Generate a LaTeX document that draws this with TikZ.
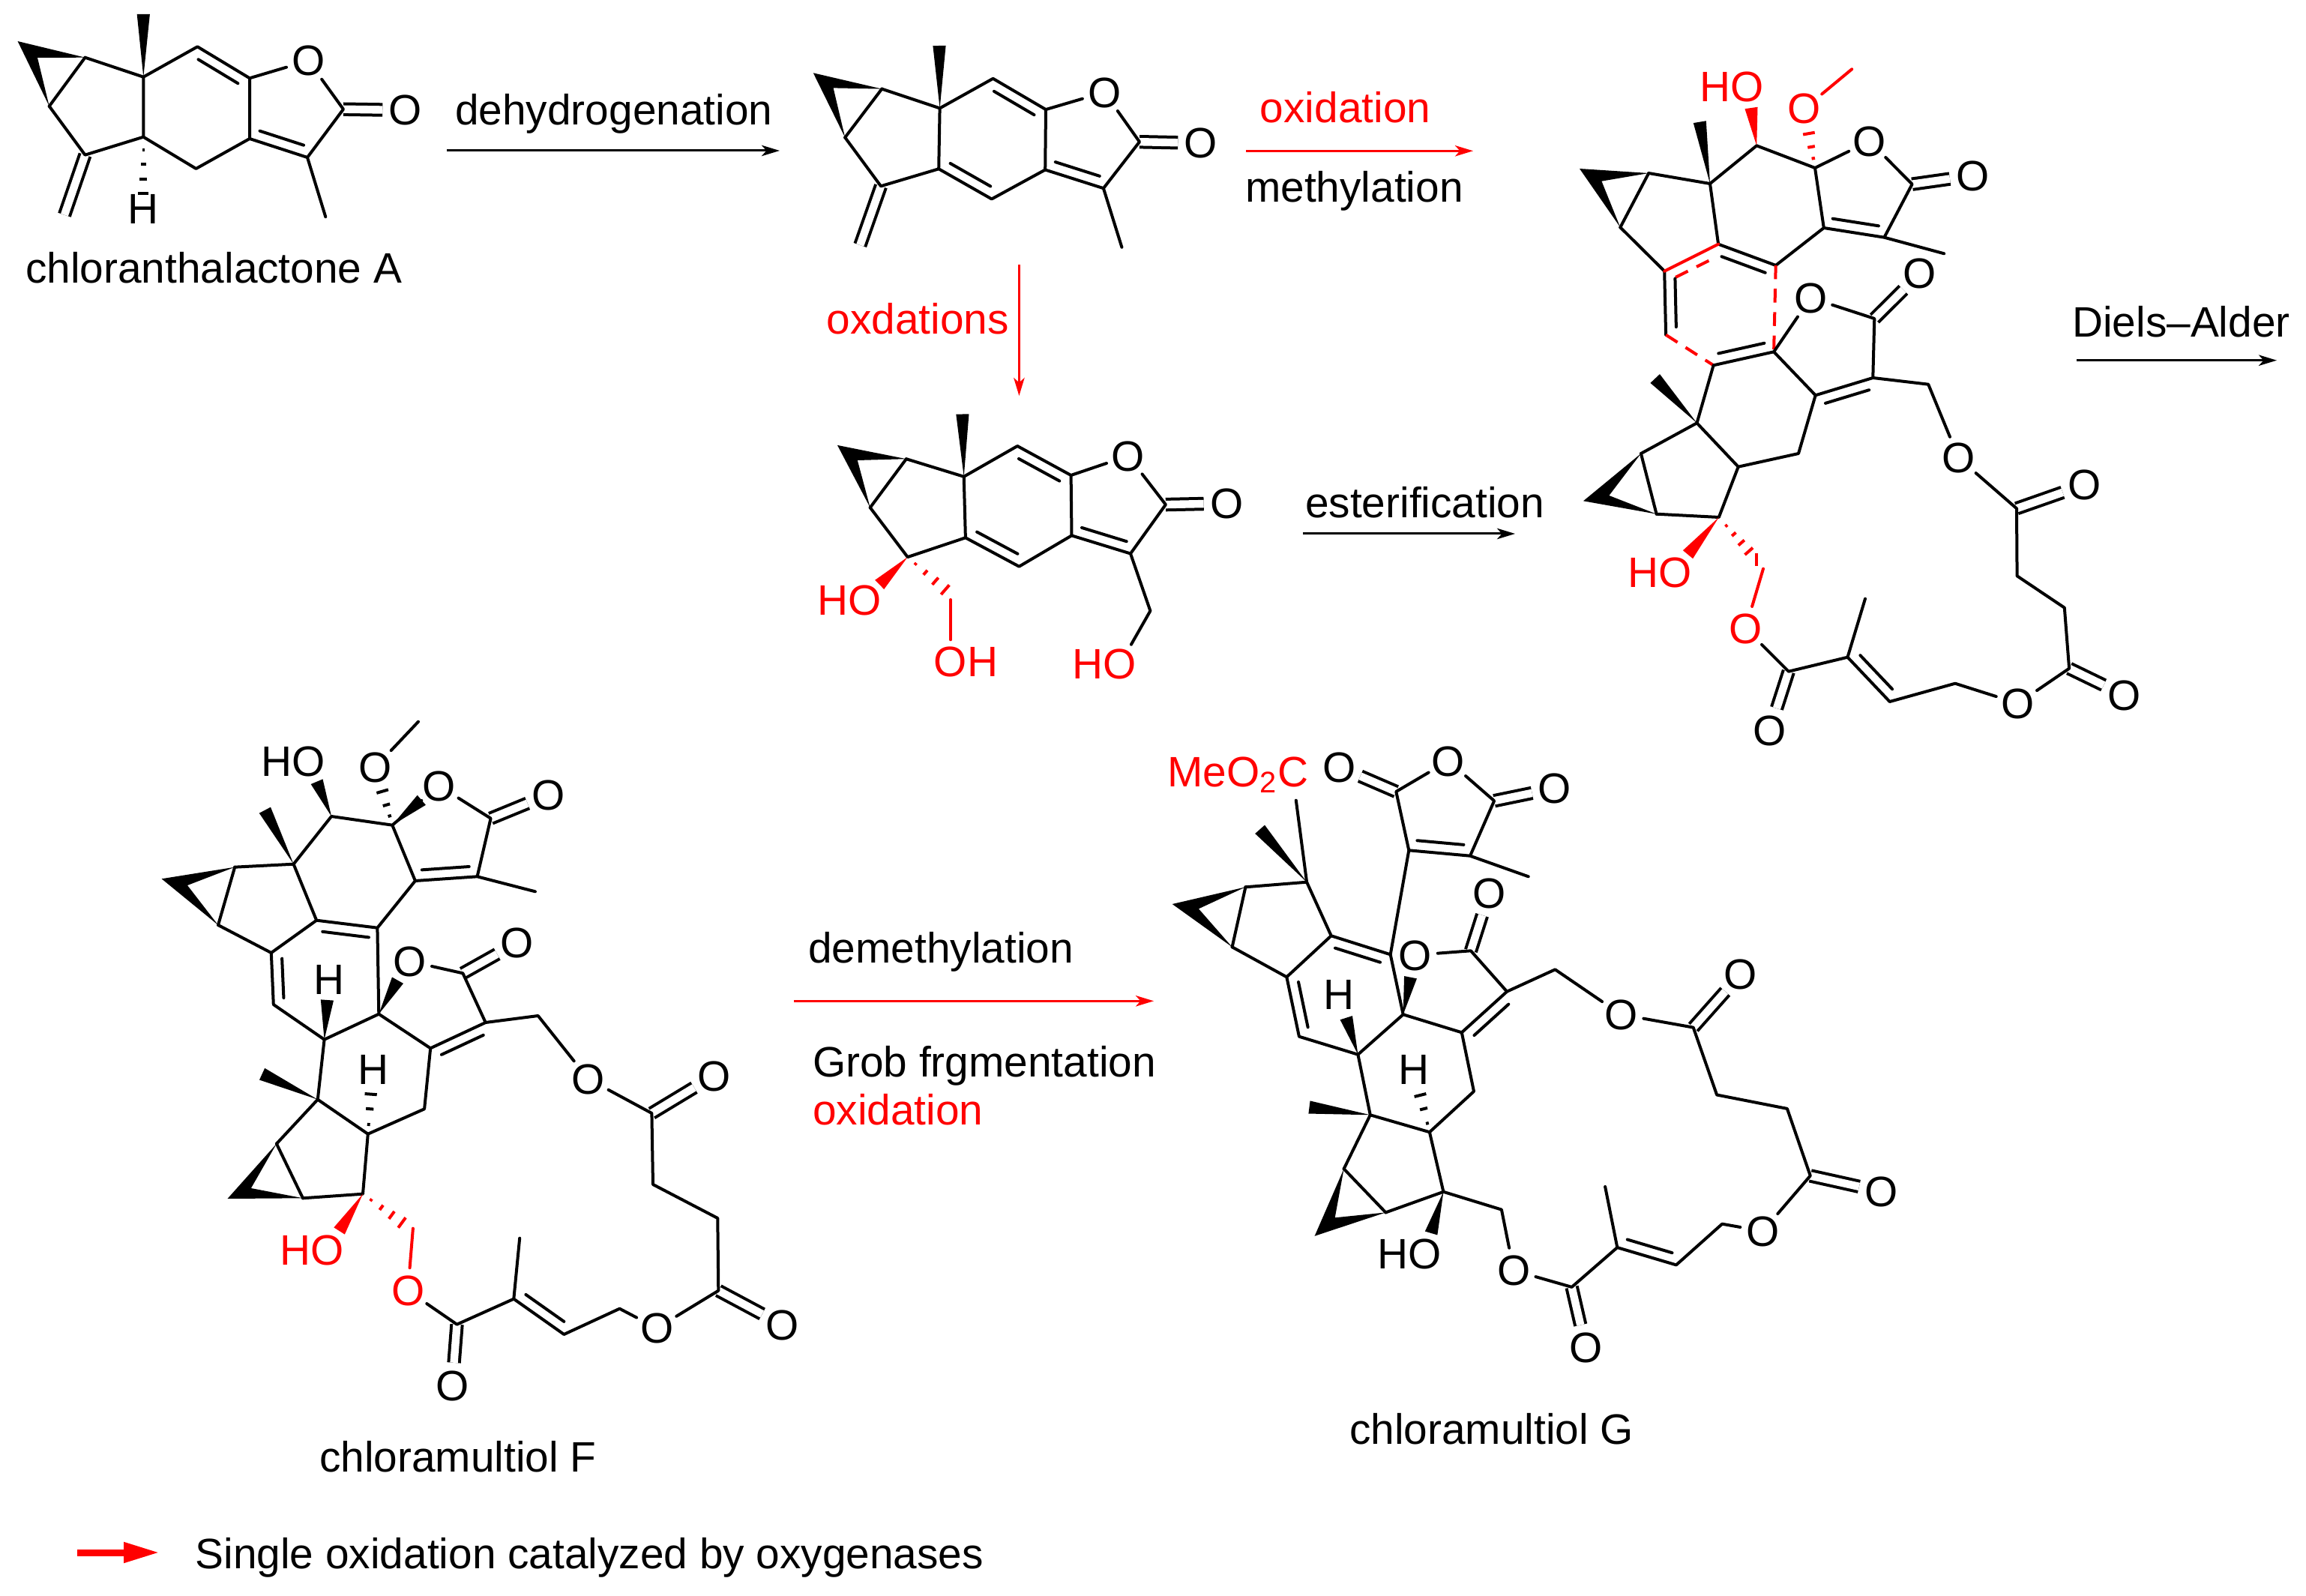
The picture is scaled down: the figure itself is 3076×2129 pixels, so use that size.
\documentclass[tikz,border=0pt]{standalone}
\usepackage{fontspec}
\setmainfont{Liberation Sans}
\usetikzlibrary{calc,arrows.meta}
\definecolor{rd}{RGB}{255,0,0}
\newcommand\dd{3.5pt}
\newcommand\hwmax{2.2}
% inner line of a double bond, on the right of a->b as seen on the page
\newcommand\ib[3][bond]{\draw[#1] ($(#2)!.12!(#3)!-\dd!90:(#3)$) -- ($(#3)!.12!(#2)!\dd!90:(#2)$);}
% solid wedge: narrow at tip, wide at end
\newcommand\wdg[3][black]{\fill[#1] (#2) -- ($(#3)!2.15pt!90:(#2)$) -- ($(#3)!-2.15pt!90:(#2)$) -- cycle;}
% hashed wedge
\newcommand\hsh[4][black]{\foreach \t in {#4}{\pgfmathsetmacro\hw{\t*\hwmax}
  \draw[hashl,#1] ($(#2)!\t!(#3)!\hw pt!90:(#3)$) -- ($(#2)!\t!(#3)!-\hw pt!90:(#3)$);}}
% cyclopropane with two bold edges
\newcommand\cyc[4]{\fill (#1) -- (#2) -- (#3) -- (#4) -- cycle; \draw[bond] (#2) -- (#4);}
\newcommand\at[1]{\foreach \n/\x/\y in {#1}{\coordinate (\n) at (\x,\y);}}
\newcommand\ox[1]{\foreach \n/\x/\y in {#1}{\node[atom] (\n) at (\x,\y) {O};}}
\newcommand\oxr[1]{\foreach \n/\x/\y in {#1}{\node[atom,text=rd] (\n) at (\x,\y) {O};}}
\newcommand\dbl[1]{\foreach \a/\b in {#1}{\draw[dblb] (\a) -- (\b);}}
\tikzset{
  bond/.style={line width=1pt,line cap=round,line join=round},
  redbond/.style={bond,draw=rd},
  reddash/.style={line width=1pt,draw=rd,dash pattern=on 4.6pt off 3.2pt},
  hashl/.style={line width=1pt},
  dblb/.style={line width=1pt,double,double distance=2.6pt,line cap=butt},
  atom/.style={circle,inner sep=0pt,minimum size=14.6pt,font=\fontsize{14.2}{14}\selectfont,text height=10pt,text depth=0pt},
  lab/.style={inner sep=0pt,font=\fontsize{14.2}{14}\selectfont,text height=10pt,text depth=0pt},
  txt/.style={inner sep=0pt,anchor=base west,font=\fontsize{14.2}{14}\selectfont,xshift=-0.4pt,yshift=-0.4pt},
  arr/.style={line width=0.75pt,-{Stealth[length=6pt,width=3.6pt,inset=1.6pt]}},
  redarr/.style={arr,draw=rd,fill=rd}
}
\begin{document}
\begin{tikzpicture}[x=0.25pt,y=-0.25pt]
\useasboundingbox[fill=white] (0,0) rectangle (3076,2129);
%% ---------- chloranthalactone A
\at{aP/23.6/55,aQ/113.5/76.7,aI/50/77,aR/65.7/141.7,aC1/191.3/102.7,aMe/191.3/19,aC2/263.4/62.3,aC3/333/104.3,aC4/458/145.7,aC5/410/210,aC6/333/185,aC7/261.5/225,aC8/191.3/182.7,aC9/113.5/206.7,aCH/86/286.7,aM2/434.3/289.3}
\ox{aO/411.3/81,aO2/540.8/147}
\node[lab] (aH) at (191.3,279) {H};
\dbl{aC4/aO2,aC9/aCH}
\cyc{aP}{aQ}{aI}{aR}
\wdg{aC1}{aMe}
\draw[bond] (aQ)--(aC1)--(aC2)--(aC3)--(aC6)--(aC7)--(aC8)--(aC1) (aC8)--(aC9)--(aR) (aC3)--(aO) (aO)--(aC4)--(aC5)--(aC6) (aC5)--(aM2);
\ib{aC2}{aC3}\ib{aC5}{aC6}
\hsh{aC8}{aH}{.18,.38,.58,.78}
\node[txt] (tA) at (35,376) {chloranthalactone A};
\node[txt] (t1) at (608,165) {dehydrogenation};
\coordinate (r1a) at (596,201);\coordinate (r1b) at (1040,201);
\draw[arr] (r1a)--(r1b);
%% ---------- dehydro
\at{bP/1084.8/97.3,bQ/1176.3/118.6,bI/1111.6/117.4,bR/1127.2/183.4,bC1/1253.6/144.4,bMe/1253/61,bC2/1324.6/104.8,bC3/1395/146.1,bC4/1520/189.2,bC5/1471.9/251.2,bC6/1394.2/226.5,bC7/1322.8/265.5,bC8/1252.2/225.3,bC9/1175/248.3,bCH/1147.3/327,bM2/1496.4/329.8}
\ox{bO/1473.2/123.1,bO2/1601.8/190.9}
\dbl{bC4/bO2,bC9/bCH}
\cyc{bP}{bQ}{bI}{bR}
\wdg{bC1}{bMe}
\draw[bond] (bQ)--(bC1)--(bC2)--(bC3)--(bC6)--(bC7)--(bC8)--(bC1) (bC8)--(bC9)--(bR) (bC3)--(bO) (bO)--(bC4)--(bC5)--(bC6) (bC5)--(bM2);
\ib{bC2}{bC3}\ib{bC7}{bC8}\ib{bC5}{bC6}
%% arrow down
\coordinate (r2a) at (1359.4,353);\coordinate (r2b) at (1359.4,528);
\draw[redarr] (r2a)--(r2b);
\node[txt,text=rd] (t2) at (1103.6,443.5) {oxdations};
%% ---------- triol
\at{cP/1117/593.9,cQ/1208.9/612.2,cI/1143.8/614,cR/1160.7/677.1,cC1/1285.7/635.8,cMe/1283.9/552.5,cC2/1357.1/595,cC3/1428.6/634,cC4/1554.9/673.1,cC5/1508/738.5,cC6/1429.5/714.4,cC7/1359.4/755.7,cC8/1287.9/717.3,cC9/1210.7/743.1,cW/1173.2/779.9,cHs/1263.4/789,cCH/1268/800,cOHe/1268/853.3,cCH2/1534.4/814.9,cHOe/1508.9/859.7}
\ox{cO/1504.9/608.2,cO2/1636.2/671.4}
\node[lab,text=rd] (cL1) at (1133,800.5) {HO};
\node[lab,text=rd] (cL2) at (1288.5,882.6) {OH};
\node[lab,text=rd] (cL3) at (1473.3,885.5) {HO};
\dbl{cC4/cO2}
\cyc{cP}{cQ}{cI}{cR}
\wdg{cC1}{cMe}
\wdg[rd]{cC9}{cW}
\hsh[rd]{cC9}{cHs}{.2,.45,.7,.95}
\draw[bond] (cQ)--(cC1)--(cC2)--(cC3)--(cC6)--(cC7)--(cC8)--(cC1) (cC8)--(cC9)--(cR) (cC3)--(cO) (cO)--(cC4)--(cC5)--(cC6) (cC5)--(cCH2)--(cHOe);
\draw[redbond] (cCH)--(cOHe);
\ib{cC2}{cC3}\ib{cC7}{cC8}\ib{cC5}{cC6}
\node[txt] (t3) at (1742,689) {esterification};
\coordinate (r3a) at (1738,712);\coordinate (r3b) at (2021,712);
\draw[arr] (r3a)--(r3b);
\node[txt,text=rd] (t4) at (1681.7,161.7) {oxidation};
\node[txt] (t5) at (1662,268.3) {methylation};
\coordinate (r4a) at (1662,201.3);\coordinate (r4b) at (1965,201.3);
\draw[redarr] (r4a)--(r4b);
%% ---------- intermediate D
\at{dP/2107/225,dQ/2199.2/231,dI/2136.4/241.7,dR/2161.3/303.3,dC1/2281/245,dMe/2267.3/162.7,dC2/2343.2/194.3,dW/2336/144,dC3/2421/224,dH/2412/173,dC4/2550.6/245.7,dC5/2513.4/316.7,dC6/2432.8/304,dM2/2593.2/338.3,dOMe/2470.2/92.3,dC11/2292.1/325.7,dC12/2368.7/354,dC10/2220.2/361.7,dC9/2222.1/446.7,dC13/2285.6/487.3,dC14/2366.1/469.3,dC20/2500.3/425,dC15/2498.3/504,dC16/2421.7/527.3,dCH/2572.2/512.7,dQ2/2263.5/564.3,dMw/2207.7/505,dR2/2188.9/605,dC17/2318.7/622.7,dC18/2399/605,dP2/2112/668.3,dI2/2146.4/661,dQ3/2209.6/685.7,dC19/2292.8/690,dW2/2251.5/739.7,dHs/2342.8/746.7,dCH2/2352/752,dOe/2352/758.7,dC21/2385.8/895.7,dC22/2464.5/876.7,dM3/2488/798.7,dC23/2520.7/936,dC24/2608/911.7,dC25/2760.1/891.7,dC26/2753.8/810.7,dC27/2690.6/768.3,dC28/2690/678.3}
\ox{dO/2493.7/188.3,dO2/2631.2/234.3,dO3/2415.2/397.3,dO4/2560.5/365,dO5/2612.6/611,dO6/2780.2/646.7,dO8/2360.6/974,dO9/2691.8/938.3,dO10/2833.6/927.3}
\oxr{dO7/2328.4/838.3,dOm/2406.7/145}
\node[lab,text=rd] (dL1) at (2310.5,116) {HO};
\node[lab,text=rd] (dL2) at (2213.6,763.3) {HO};
\dbl{dC4/dO2,dC20/dO4,dC28/dO6,dC21/dO8,dC25/dO10}
\cyc{dP}{dQ}{dI}{dR}
\wdg{dC1}{dMe}
\wdg[rd]{dC2}{dW}
\hsh[rd]{dC3}{dH}{.25,.55,.9}
\draw[redbond] (dOm)--(dOMe);
\draw[bond] (dQ)--(dC1)--(dC2)--(dC3)--(dC6)--(dC12)--(dC11)--(dC1) (dC10)--(dR) (dC3)--(dO) (dO)--(dC4)--(dC5)--(dC6) (dC5)--(dM2);
\ib{dC5}{dC6}
\draw[bond] (dC10)--(dC9);
\draw[redbond] (dC10)--(dC11);
\draw[reddash] (dC9)--(dC13) (dC12)--(dC14);
\ib[reddash]{dC10}{dC11}
\ib{dC11}{dC12}
\ib{dC9}{dC10}
\draw[bond] (dC13)--(dC14)--(dO3) (dO3)--(dC20)--(dC15)--(dC16)--(dC14) (dC15)--(dCH)--(dO5) (dC13)--(dQ2);
\ib{dC14}{dC13}
\ib{dC16}{dC15}
\fill (dQ2) -- ($(dMw)!2.15pt!90:(dQ2)$) -- ($(dMw)!-2.15pt!90:(dQ2)$) -- cycle;
\cyc{dP2}{dR2}{dI2}{dQ3}
\draw[bond] (dR2)--(dQ2)--(dC17)--(dC18)--(dC16) (dC17)--(dC19)--(dQ3);
\wdg[rd]{dC19}{dW2}
\hsh[rd]{dC19}{dHs}{.2,.4,.6,.8,1}
\draw[redbond] (dOe)--(dO7);
\draw[bond] (dO7)--(dC21)--(dC22)--(dC23)--(dC24)--(dO9)--(dC25)--(dC26)--(dC27)--(dC28)--(dO5) (dC22)--(dM3);
\ib{dC23}{dC22}
\node[txt] (t6) at (2765,448.3) {Diels–Alder};
\coordinate (r5a) at (2770,480.7);\coordinate (r5b) at (3037,480.7);
\draw[arr] (r5a)--(r5b);
%% ---------- chloramultiol F
\at{eP/215.6/1172.3,eQ/313.2/1156.7,eI/250/1181,eR/291/1234,eC1/391.6/1152.7,eMe/353.4/1080.7,eC2/442.1/1089,eW/422.6/1042.7,eC3/523.3/1100.7,eOMe/558/962.7,eHs/509/1051.7,eW2/562.3/1067.3,eC4/654.6/1091.7,eC5/636.6/1169.3,eC6/553.9/1175,eM2/713.9/1189.3,eC8/503.4/1237.7,eC7/422.2/1227.7,eC9/361.8/1271,eC10/364.8/1340,eC11/432.6/1386.7,eC12/505.3/1352.7,eC13/617.4/1298.3,eC14/647.7/1364,eC15/574.2/1398.3,eCH/717.7/1355,eHw/436.4/1334,eW3/530.5/1307.7,eQ2/423.8/1466.7,eMw/349.6/1432.7,eC16/490.8/1512.7,eHh/495/1455,eC17/566.1/1479.3,eR2/368.9/1525.7,eP2/303.5/1599,eI2/334.9/1585,eQ3/404/1598.3,eC18/484/1592.7,eW4/452.6/1642,eHs2/538.9/1633,eCH2/551/1634,eOe/550.9/1638.7,eC19/609.5/1766.7,eC20/685.3/1732.7,eM3/693.2/1651.7,eC21/752.3/1780,eC22/826.5/1745.7,eC23/958.3/1721.7,eC24/957.3/1625,eC25/871/1580,eC26/869.4/1485}
\ox{eO/500.7/1023.3,eO1/585.7/1048.3,eO2/731.9/1060,eO3/546.2/1282.3,eO4/689.8/1257.7,eO5/784.7/1439.3,eO6/952.1/1435,eO8/603.2/1848.3,eO9/876.2/1771.7,eO10/1043.6/1767.3}
\oxr{eO7/544.1/1721.7}
\node[lab] (eL1) at (391,1015) {HO};
\node[lab] (eH1) at (439.1,1306.7) {H};
\node[lab] (eH2) at (498.1,1426) {H};
\node[lab,text=rd] (eL2) at (416,1667.3) {HO};
\dbl{eC4/eO2,eC13/eO4,eC26/eO6,eC19/eO8,eC23/eO10}
\cyc{eP}{eQ}{eI}{eR}
\wdg{eC1}{eMe}\wdg{eC2}{eW}\wdg{eC3}{eW2}\wdg{eC11}{eHw}\wdg{eC12}{eW3}\wdg{eQ2}{eMw}
\hsh{eC3}{eHs}{.25,.55,.92}
\hsh{eC16}{eHh}{.22,.58,.92}
\draw[bond] (eQ)--(eC1)--(eC2)--(eC3)--(eC6)--(eC5)--(eC4)--(eO1) (eO1)--(eC3) (eC5)--(eM2) (eC6)--(eC8)--(eC7)--(eC1) (eC7)--(eC9)--(eR) (eC9)--(eC10)--(eC11)--(eC12)--(eC8) (eC12)--(eC15)--(eC14)--(eC13)--(eO3) (eC14)--(eCH)--(eO5) (eC11)--(eQ2) (eC15)--(eC17)--(eC16)--(eQ2)--(eR2) (eC16)--(eC18)--(eQ3);
\draw[bond] (eO)--(eOMe);
\ib{eC5}{eC6}\ib{eC7}{eC8}\ib{eC10}{eC9}\ib{eC15}{eC14}
\cyc{eP2}{eR2}{eI2}{eQ3}
\wdg[rd]{eC18}{eW4}
\hsh[rd]{eC18}{eHs2}{.2,.45,.7,.95}
\draw[redbond] (eOe)--(eO7);
\draw[bond] (eO7)--(eC19)--(eC20)--(eC21)--(eC22)--(eO9)--(eC23)--(eC24)--(eC25)--(eC26)--(eO5) (eC20)--(eM3);
\ib{eC21}{eC20}
\node[txt] (tF) at (427,1961.7) {chloramultiol F};
%% ---------- demethylation arrow
\node[txt] (t7) at (1079,1283.3) {demethylation};
\coordinate (r6a) at (1059,1335.3);\coordinate (r6b) at (1539,1335.3);
\draw[redarr] (r6a)--(r6b);
\node[txt] (t8) at (1085,1435) {Grob frgmentation};
\node[txt,text=rd] (t9) at (1085,1499.3) {oxidation};
%% ---------- chloramultiol G
\at{fC1/1743.1/1176.7,fMe/1728.8/1067.7,fMw/1680.6/1106.3,fP/1563.7/1206,fQ/1661.4/1183.3,fI/1598.9/1212.3,fR/1643.6/1263.3,fC2/1775.7/1248.3,fC3/1854.7/1273.3,fC4/1716.3/1303.3,fC5/1732.9/1382.7,fC6/1811.4/1406.7,fC7/1871.7/1353.3,fHw/1795.8/1357.7,fW/1881.5/1303.7,fC8/1961.9/1268.3,fC9/2010.1/1322.7,fC10/1949.8/1377.3,fCH/2074.4/1293.3,fC11/1879.3/1134.3,fC12/1862.3/1056,fC13/1993.1/1068.3,fC14/1961/1141.7,fM2/2038.7/1169.3,fQ2/1827.8/1487.3,fMw2/1746.5/1477,fC15/1906.9/1510.2,fHh/1893.4/1456.7,fC16/1966/1455.9,fR2/1792.6/1559.2,fP2/1753.6/1648.8,fI2/1780.7/1624.3,fQ3/1848.4/1617.4,fC18/1925.4/1589.8,fW2/1909.1/1645,fCH2/2002.9/1613.6,fC19/2096.6/1716.9,fC20/2157.3/1664.1,fM3/2141.1/1583,fC21/2235.9/1687.4,fC22/2297.2/1632.7,fC23/2414.8/1568.4,fC24/2383.9/1478.9,fC25/2290.1/1460.5,fC26/2258.7/1370.6}
\ox{fO1/1887.3/1274,fO2/1986.4/1191.7,fO3/2162.3/1353.3,fO4/1786.4/1023.3,fO5/1932/1015,fO6/2073.5/1051.7,fO7/2019.1/1694.7,fO8/2115.1/1797.3,fO9/2351.4/1642.3,fO10/2509.7/1589.5,fO11/2321.6/1299.8}
\node[lab] (fH1) at (1785.5,1326.7) {H};
\node[lab] (fH2) at (1886.3,1426) {H};
\node[lab] (fL) at (1880,1672.9) {HO};
\node[txt,text=rd] (fMeO) at (1558,1047.7) {MeO\textsubscript{2}C};
\dbl{fC8/fO2,fC12/fO4,fC13/fO6,fC19/fO8,fC23/fO10,fC26/fO11}
\cyc{fP}{fQ}{fI}{fR}
\wdg{fC1}{fMw}\wdg{fC6}{fHw}\wdg{fC7}{fW}\wdg{fQ2}{fMw2}\wdg{fC18}{fW2}
\hsh{fC15}{fHh}{.22,.58,.92}
\draw[bond] (fC1)--(fMe) (fQ)--(fC1)--(fC2)--(fC3)--(fC7)--(fC10)--(fC9)--(fC8)--(fO1) (fC2)--(fC4)--(fC5)--(fC6)--(fC7) (fC4)--(fR) (fC3)--(fC11) (fC11)--(fC12)--(fO5)--(fC13)--(fC14)--(fC11) (fC14)--(fM2) (fC9)--(fCH)--(fO3) (fC6)--(fQ2)--(fC15)--(fC16)--(fC10) (fQ2)--(fR2) (fC15)--(fC18)--(fQ3);
\ib{fC14}{fC11}\ib{fC2}{fC3}\ib{fC5}{fC4}\ib{fC10}{fC9}
\cyc{fP2}{fR2}{fI2}{fQ3}
\draw[bond] (fC18)--(fCH2)--(fO7)--(fC19)--(fC20)--(fC21)--(fC22)--(fO9)--(fC23)--(fC24)--(fC25)--(fC26)--(fO3) (fC20)--(fM3);
\ib{fC21}{fC20}
\node[txt] (tG) at (1801,1925) {chloramultiol G};
%% ---------- legend
\coordinate (r7a) at (103,2071);\coordinate (r7b) at (213,2071);
\draw[draw=rd,line width=2.25pt,-{Stealth[length=12pt,width=6.4pt,inset=0pt]},color=rd] (r7a)--(r7b);
\node[txt] (tL) at (261.5,2090.7) {Single oxidation catalyzed by oxygenases};
\end{tikzpicture}
\end{document}
